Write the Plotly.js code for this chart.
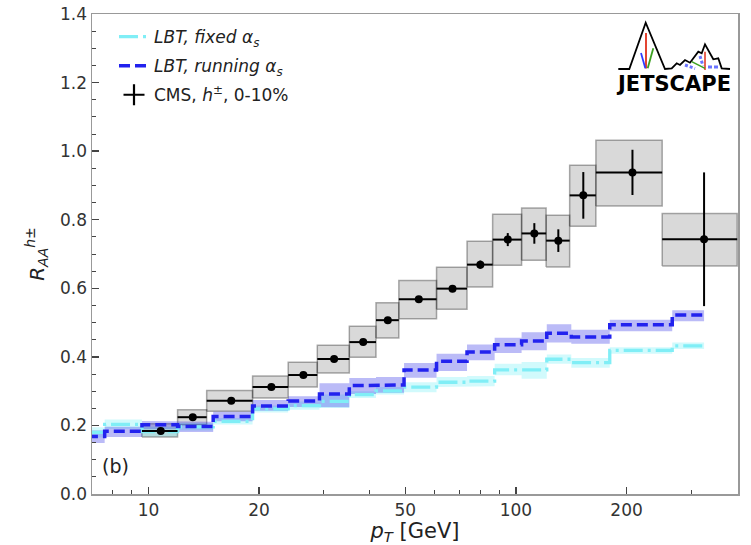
<!DOCTYPE html>
<html>
<head>
<meta charset="utf-8">
<script src="https://cdn.plot.ly/plotly-3.0.1.min.js"></script>
<style>html,body{margin:0;padding:0;background:#fff;}#chart{width:751px;height:545px;}</style>
</head>
<body>
<div id="chart"></div>
<script>
// ---- data ----
const pT = [6.8, 8.4, 10.8, 13.2, 16.8, 21.6, 26.4, 32.0, 38.4, 44.8, 54.4, 67.2, 80.0, 95.0, 112.2, 130.4, 152.5, 207.5, 325.0];
const lbtRunning   = [0.168, 0.183, 0.202, 0.197, 0.226, 0.257, 0.271, 0.292, 0.316, 0.318, 0.362, 0.387, 0.414, 0.435, 0.446, 0.469, 0.458, 0.494, 0.522];
const lbtRunningLo = [0.149, 0.166, 0.189, 0.181, 0.212, 0.243, 0.254, 0.253, 0.292, 0.295, 0.339, 0.359, 0.390, 0.411, 0.419, 0.442, 0.438, 0.475, 0.504];
const lbtRunningHi = [0.185, 0.196, 0.213, 0.211, 0.240, 0.274, 0.285, 0.323, 0.338, 0.341, 0.382, 0.409, 0.436, 0.456, 0.472, 0.495, 0.479, 0.508, 0.536];
const lbtFixed   = [0.180, 0.203, 0.182, 0.196, 0.212, 0.248, 0.258, 0.270, 0.290, 0.301, 0.312, 0.326, 0.329, 0.362, 0.362, 0.393, 0.383, 0.419, 0.432];
const lbtFixedLo = [0.165, 0.190, 0.168, 0.185, 0.203, 0.238, 0.246, 0.251, 0.280, 0.290, 0.297, 0.312, 0.314, 0.346, 0.336, 0.380, 0.368, 0.409, 0.423];
const lbtFixedHi = [0.195, 0.217, 0.196, 0.207, 0.222, 0.258, 0.270, 0.290, 0.300, 0.312, 0.326, 0.341, 0.344, 0.380, 0.385, 0.407, 0.397, 0.428, 0.442];

const cmsPt    = [10.8, 13.2, 16.8, 21.6, 26.4, 32.0, 38.4, 44.8, 54.4, 67.2, 80.0, 95.0, 112.2, 130.4, 152.5, 207.5, 325.0];
const cmsBinLo = [9.6, 12, 14.4, 19.2, 24, 28.8, 35.2, 41.6, 48, 60.8, 73.6, 86.4, 103.6, 120.8, 140, 165, 250];
const cmsBinHi = [12, 14.4, 19.2, 24, 28.8, 35.2, 41.6, 48, 60.8, 73.6, 86.4, 103.6, 120.8, 140, 165, 250, 400];
const cmsRaa   = [0.184, 0.224, 0.272, 0.312, 0.347, 0.394, 0.443, 0.507, 0.568, 0.599, 0.669, 0.742, 0.760, 0.739, 0.871, 0.938, 0.743];
const cmsStat  = [0.004, 0.004, 0.004, 0.005, 0.005, 0.006, 0.006, 0.007, 0.008, 0.010, 0.012, 0.019, 0.030, 0.033, 0.068, 0.066, 0.195];
const cmsSysLo = [0.166, 0.202, 0.241, 0.280, 0.312, 0.353, 0.399, 0.455, 0.511, 0.539, 0.604, 0.667, 0.682, 0.662, 0.781, 0.840, 0.665];
const cmsSysHi = [0.205, 0.246, 0.302, 0.344, 0.384, 0.434, 0.489, 0.558, 0.623, 0.661, 0.737, 0.816, 0.834, 0.813, 0.959, 1.032, 0.818];

const xTickVals = [10, 20, 50, 100, 200];
const xTickText = ['10', '20', '50', '100', '200'];
const xMinorVals = [8, 9, 30, 40, 60, 70, 80, 90, 300, 400];

// ---- helpers: steps at midpoints (steps-mid) ----
function stepEdges(x) {
  const e = [x[0]];
  for (let i = 1; i < x.length; i++) e.push((x[i - 1] + x[i]) / 2);
  e.push(x[x.length - 1]);
  return e;
}
function stepLine(x, y) {
  const e = stepEdges(x), X = [], Y = [];
  for (let i = 0; i < y.length; i++) { X.push(e[i], e[i + 1]); Y.push(y[i], y[i]); }
  return {X, Y};
}
function stepBand(x, lo, hi) {
  const up = stepLine(x, hi), dn = stepLine(x, lo);
  return {X: up.X.concat(dn.X.slice().reverse()), Y: up.Y.concat(dn.Y.slice().reverse())};
}

const fixedLine = stepLine(pT, lbtFixed), runLine = stepLine(pT, lbtRunning);
const fixedBand = stepBand(pT, lbtFixedLo, lbtFixedHi), runBand = stepBand(pT, lbtRunningLo, lbtRunningHi);

// CMS systematic boxes
const boxX = [], boxY = [];
for (let i = 0; i < cmsPt.length; i++) {
  boxX.push(cmsBinLo[i], cmsBinHi[i], cmsBinHi[i], cmsBinLo[i], cmsBinLo[i], null);
  boxY.push(cmsSysLo[i], cmsSysLo[i], cmsSysHi[i], cmsSysHi[i], cmsSysLo[i], null);
}

const traces = [
  {x: boxX, y: boxY, mode: 'lines', fill: 'toself', fillcolor: 'rgba(0,0,0,0.15)',
   line: {color: 'rgba(0,0,0,0.32)', width: 1.5}, showlegend: false, hoverinfo: 'skip'},
  {x: fixedBand.X, y: fixedBand.Y, mode: 'lines', fill: 'toself', fillcolor: 'rgba(0,225,240,0.18)',
   line: {width: 0}, showlegend: false, hoverinfo: 'skip'},
  {x: runBand.X, y: runBand.Y, mode: 'lines', fill: 'toself', fillcolor: 'rgba(30,30,230,0.30)',
   line: {width: 0}, showlegend: false, hoverinfo: 'skip'},
  {x: fixedLine.X, y: fixedLine.Y, mode: 'lines', name: '<i>LBT, fixed α<sub>s</sub></i>', legendrank: 1, legendgroup: 'g1',
   line: {color: '#80eef6', width: 3.3, dash: '19px,5px,3px,5px'}},
  {x: runLine.X, y: runLine.Y, mode: 'lines', name: '<i>LBT, running α<sub>s</sub></i>', legendrank: 2, legendgroup: 'g2',
   line: {color: '#2222ee', width: 3.5, dash: '11px,5px'}},
  {x: cmsPt, y: cmsRaa, mode: 'markers', showlegend: false,
   marker: {color: '#000', size: 8, symbol: 'circle'},
   error_y: {type: 'data', array: cmsStat, visible: true, color: '#000', thickness: 2, width: 0},
   error_x: {type: 'data', symmetric: false,
             array: cmsPt.map((v, i) => cmsBinHi[i] - v),
             arrayminus: cmsPt.map((v, i) => v - cmsBinLo[i]),
             visible: true, color: '#000', thickness: 2, width: 0}},
  {x: [null], y: [null], mode: 'markers', name: 'CMS, <i>h</i><sup>±</sup>, 0-10%', legendrank: 3, legendgroup: 'g3',
   marker: {color: '#000', size: 15, symbol: 'cross-thin', line: {color: '#000', width: 2.2}}}
];

const logoSvg = "<svg xmlns='http://www.w3.org/2000/svg' viewBox='612 18 124 56' width='124' height='56'>" +
  "<polyline points='618.3,69 629.3,69 645.7,22.7 665,69 671.7,68.3 676.7,63.3 680,65 685,60 690,62.7 698.3,51.7 701.7,53.3 705,44.3 713.3,59.3 718.3,58.3 721.7,68.3 730,69' fill='none' stroke='black' stroke-width='1.8' stroke-linejoin='miter'/>" +
  "<line x1='646' y1='33' x2='646' y2='68.5' stroke='#e0301c' stroke-width='1.8'/>" +
  "<line x1='641' y1='53' x2='645.3' y2='68.3' stroke='#2f3cff' stroke-width='1.8'/>" +
  "<line x1='653.3' y1='48.3' x2='647.7' y2='68.3' stroke='#3ca020' stroke-width='1.8'/>" +
  "<line x1='685' y1='65' x2='695' y2='68.5' stroke='#6a74ff' stroke-width='3' stroke-dasharray='3,2'/>" +
  "<line x1='700' y1='56' x2='703' y2='66' stroke='#6a74ff' stroke-width='3' stroke-dasharray='3,2'/>" +
  "<line x1='708' y1='67' x2='719' y2='67' stroke='#6a74ff' stroke-width='3' stroke-dasharray='4,2'/>" +
  "<line x1='705' y1='51.7' x2='705' y2='70' stroke='#e0301c' stroke-width='1.5'/>" +
  "<line x1='691.7' y1='61.7' x2='705' y2='68.3' stroke='#3ca020' stroke-width='1.5'/>" +
  "</svg>";

const L = 92, R = 13, T = 14, B = 51, W = 751, H = 545;
const pw = W - L - R, ph = H - T - B;
const px2x = p => (p - L) / pw;
const py2y = p => (H - B - p) / ph;

const layout = {
  width: W, height: H,
  margin: {l: L, r: R, t: T, b: B},
  paper_bgcolor: '#fff', plot_bgcolor: '#fff',
  font: {family: 'DejaVu Sans, sans-serif', color: '#222'},
  showlegend: true,
  legend: {x: px2x(114), y: py2y(19), xanchor: 'left', yanchor: 'top',
           bgcolor: 'rgba(255,255,255,0)', borderwidth: 0,
           font: {size: 17, color: '#222'}, traceorder: 'grouped', tracegroupgap: 4},
  xaxis: {
    type: 'log', range: [Math.log10(7.02), Math.log10(402)],
    tickmode: 'array', tickvals: xTickVals, ticktext: xTickText,
    ticks: 'inside', ticklen: 7, tickwidth: 1.3, tickcolor: '#444',
    showline: true, linecolor: '#999', linewidth: 1.5, mirror: true,
    showgrid: false, zeroline: false,
    tickfont: {size: 17, color: '#333'},
    minor: {tickmode: 'array', tickvals: xMinorVals, ticks: 'inside', ticklen: 4, tickwidth: 1, tickcolor: '#444', showgrid: false},
    title: {text: '<i>p</i><sub><i>T</i></sub> [GeV]', font: {size: 21, color: '#222'}, standoff: 2}
  },
  yaxis: {
    range: [0, 1.4], tickmode: 'linear', tick0: 0, dtick: 0.2, tickformat: '.1f',
    ticks: 'inside', ticklen: 7, tickwidth: 1.3, tickcolor: '#444',
    showline: true, linecolor: '#999', linewidth: 1.5, mirror: true,
    showgrid: false, zeroline: false,
    tickfont: {size: 17, color: '#333'},
    minor: {dtick: 0.05, ticks: 'inside', ticklen: 4, tickwidth: 1, tickcolor: '#444', showgrid: false},
    title: {text: '<i>R</i><sub><i>AA</i></sub><sup><i>h</i>±</sup>', font: {size: 20, color: '#222'}, standoff: 10}
  },
  images: [{
    source: 'data:image/svg+xml;charset=utf-8,' + encodeURIComponent(logoSvg),
    xref: 'paper', yref: 'paper', x: px2x(612), y: py2y(18), sizex: 124 / pw, sizey: 56 / ph,
    xanchor: 'left', yanchor: 'top', sizing: 'stretch', layer: 'above'
  }],
  annotations: [
    {text: 'JETSCAPE', xref: 'paper', yref: 'paper', x: px2x(673.5), y: py2y(84), xanchor: 'center', yanchor: 'middle',
     showarrow: false, font: {family: 'DejaVu Sans', size: 21, color: '#000', weight: 'bold'}},
    {text: '(b)', xref: 'paper', yref: 'paper', x: px2x(100), y: py2y(466), xanchor: 'left', yanchor: 'middle',
     showarrow: false, font: {size: 19, color: '#222'}}
  ]
};

Plotly.newPlot('chart', traces, layout, {displayModeBar: false, staticPlot: true});
</script>
</body>
</html>
